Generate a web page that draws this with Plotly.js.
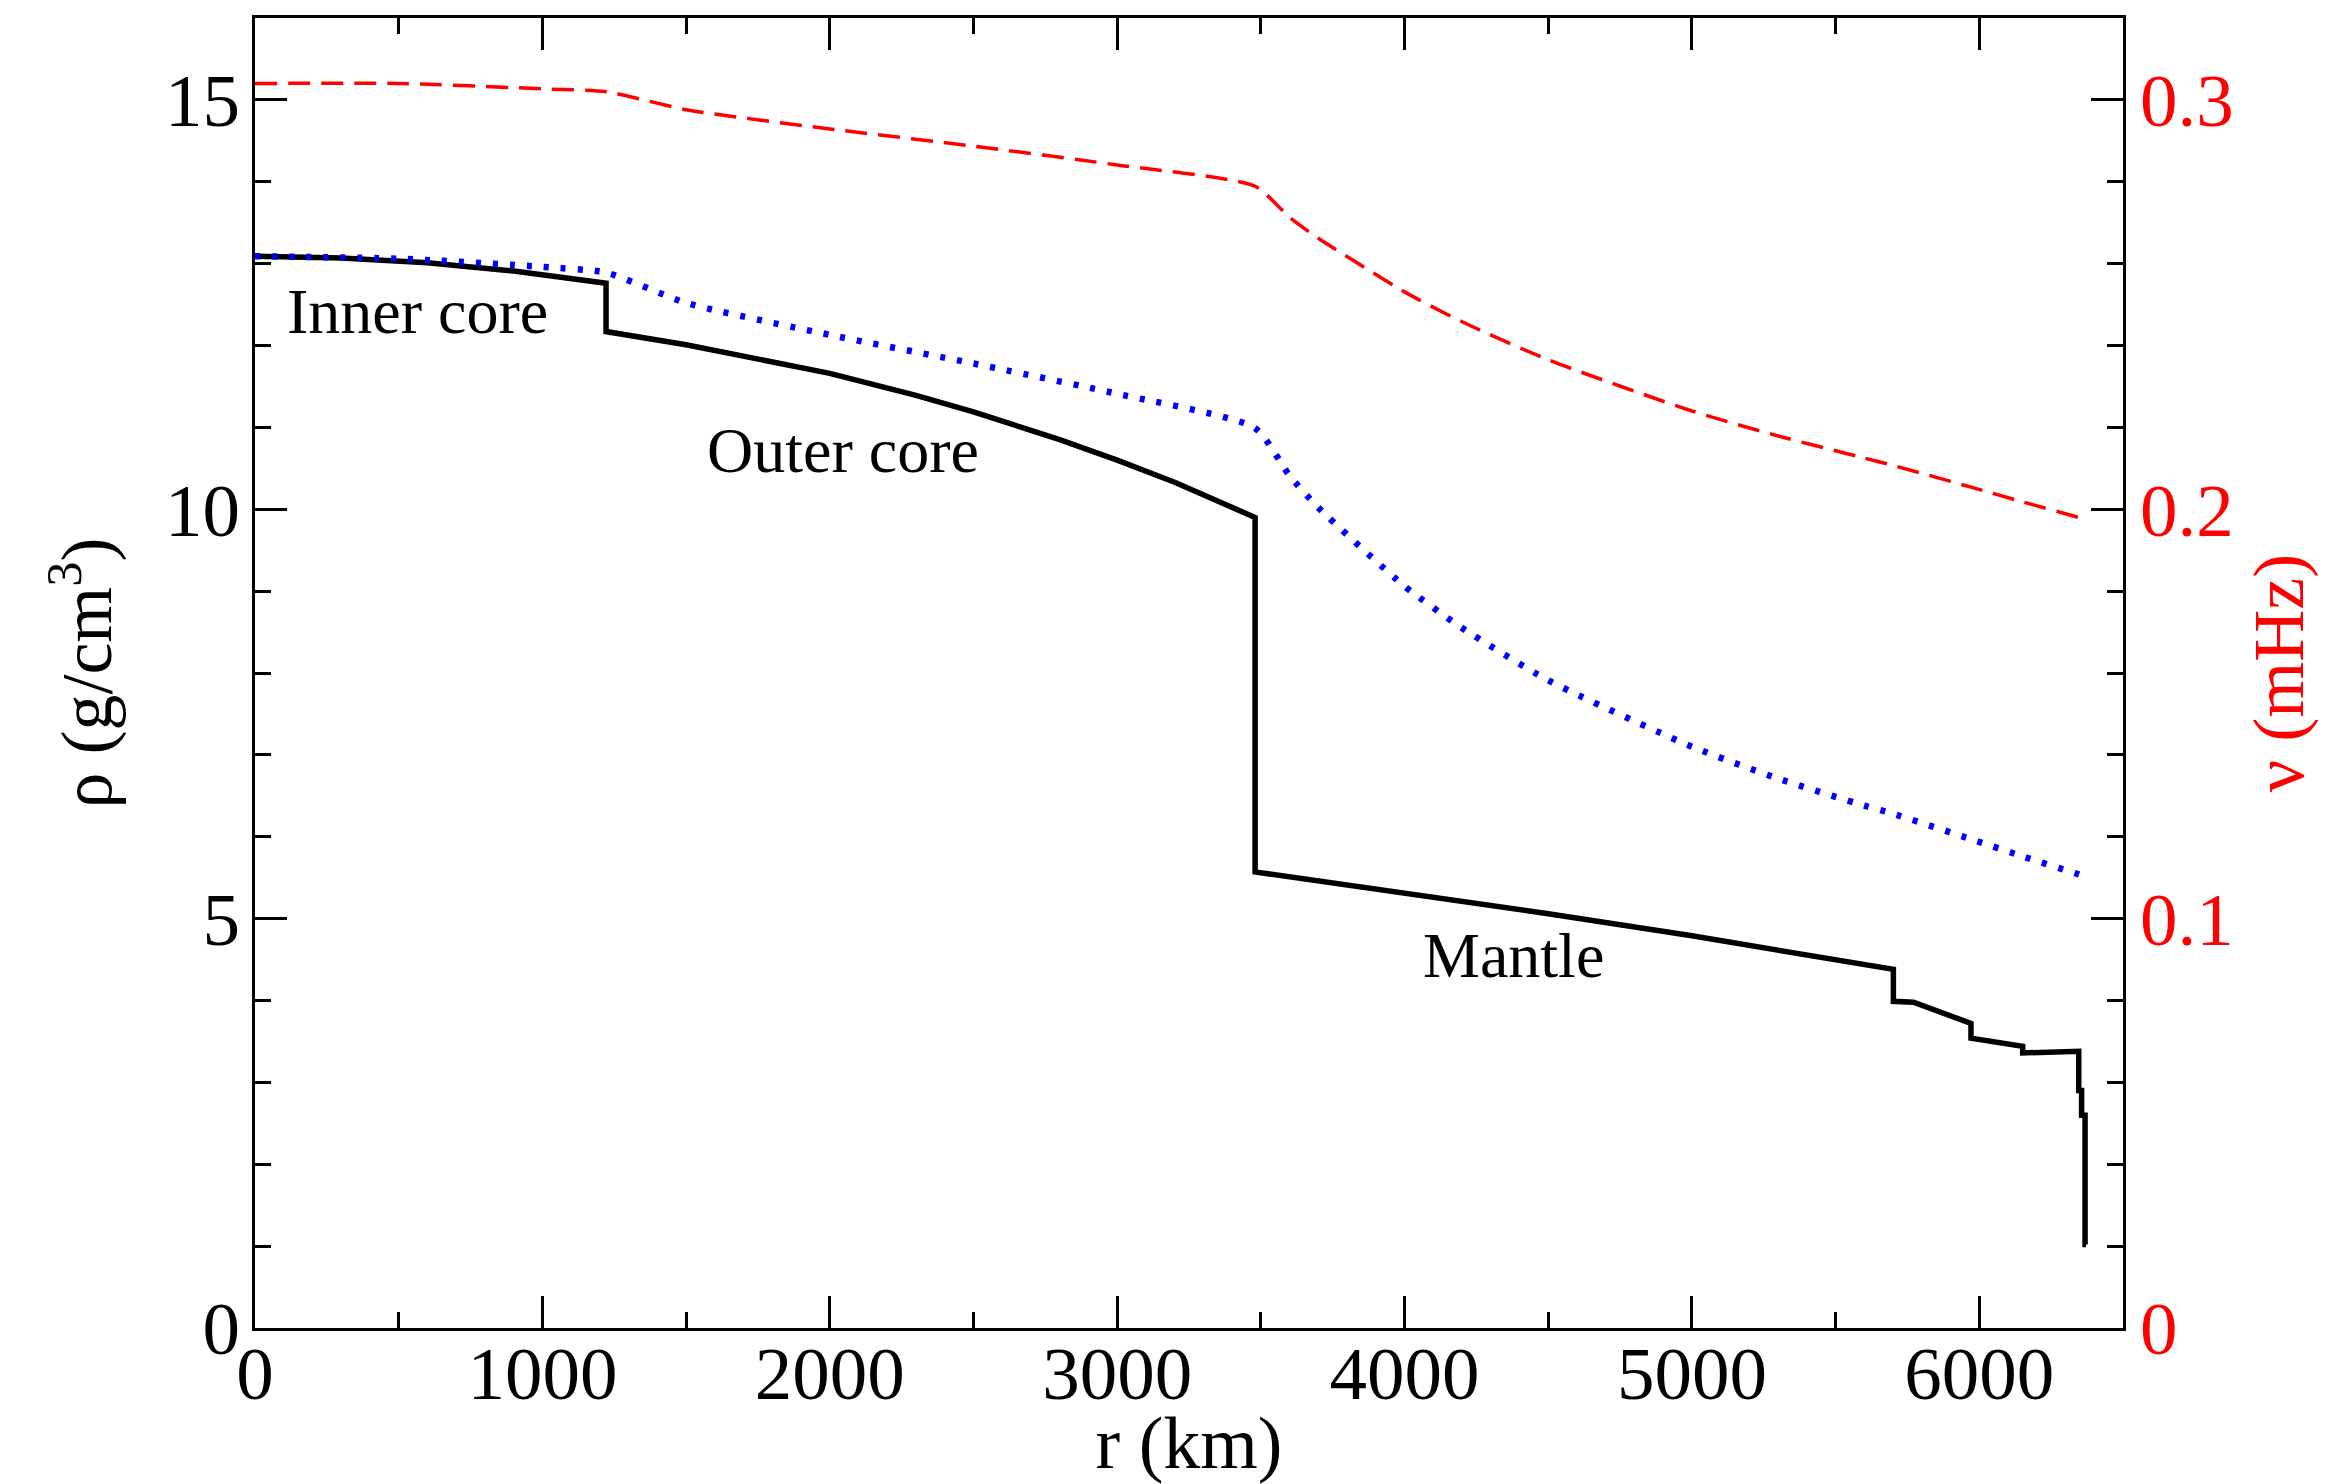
<!DOCTYPE html>
<html>
<head>
<meta charset="utf-8">
<script src="https://cdn.plot.ly/plotly-3.0.1.min.js"></script>
<style>html,body{margin:0;padding:0;background:#fff;}#chart{width:2352px;height:1484px;}</style>
</head>
<body>
<div id="chart"></div>
<script>
// Density rho (g/cm^3) vs radius r (km) — solid black
const rhoR   = [0, 300, 600, 900, 1221.5, 1221.5, 1500, 1800, 2000, 2300, 2500, 2800, 3000, 3200, 3480, 3480, 3800, 4000, 4500, 5000, 5300, 5600, 5701, 5701, 5771, 5971, 5971, 6151, 6151, 6346, 6346, 6356, 6356, 6368, 6368, 6371];
const rhoVal = [13.09, 13.07, 13.01, 12.91, 12.76, 12.17, 12.01, 11.81, 11.66, 11.39, 11.19, 10.85, 10.60, 10.33, 9.90, 5.57, 5.41, 5.31, 5.06, 4.79, 4.62, 4.44, 4.38, 3.99, 3.98, 3.72, 3.54, 3.44, 3.36, 3.38, 2.90, 2.90, 2.60, 2.60, 1.02, 1.02];

// Mean density (g/cm^3) — blue dotted
const meanR   = [0, 500, 1000, 1221.5, 1500, 2000, 2500, 3000, 3480, 3600, 3700, 4000, 4200, 4500, 5000, 5300, 5600, 5701, 5971, 6151, 6346, 6371];
const meanVal = [13.09, 13.06, 12.96, 12.89, 12.52, 12.13, 11.78, 11.41, 10.99, 10.41, 10.02, 9.06, 8.55, 7.91, 7.10, 6.71, 6.38, 6.28, 5.97, 5.76, 5.54, 5.51];

// Frequency nu (mHz) — red dashed, right axis
const nuR   = [0, 500, 1000, 1221.5, 1500, 2000, 2500, 3000, 3480, 3600, 3700, 4000, 4200, 4500, 5000, 5300, 5600, 5701, 5971, 6151, 6346, 6371];
const nuVal = [0.304, 0.304, 0.3027, 0.302, 0.2976, 0.2929, 0.2887, 0.2841, 0.2789, 0.2713, 0.2662, 0.2531, 0.2458, 0.2365, 0.2240, 0.2179, 0.2125, 0.2107, 0.2054, 0.2018, 0.1980, 0.1974];

// Region labels
const labelText = ["Inner core", "Outer core", "Mantle"];
const labelR    = [564, 2046, 4379];
const labelRho  = [12.41, 10.72, 4.55];

const FONT = "Liberation Serif, Times New Roman, serif";

const traces = [
  {x: rhoR, y: rhoVal, type: 'scatter', mode: 'lines', line: {color: '#000000', width: 5.5}, yaxis: 'y'},
  {x: meanR, y: meanVal, type: 'scatter', mode: 'lines', line: {color: '#0000ff', width: 6.5, dash: '5px,12px', shape: 'spline', smoothing: 0.6}, yaxis: 'y'},
  {x: nuR, y: nuVal, type: 'scatter', mode: 'lines', line: {color: '#ff0000', width: 3.5, dash: '22px,11px', shape: 'spline', smoothing: 0.6}, yaxis: 'y2'}
];

const annotations = labelText.map((t, i) => ({
  x: labelR[i], y: labelRho[i], xref: 'x', yref: 'y', text: t, showarrow: false,
  font: {family: FONT, size: 64, color: '#000'}
}));

const layout = {
  width: 2352, height: 1484,
  margin: {l: 255, r: 229, t: 18, b: 156},
  paper_bgcolor: '#fff', plot_bgcolor: '#fff',
  showlegend: false,
  font: {family: FONT, size: 75, color: '#000'},
  xaxis: {
    range: [0, 6500], dtick: 1000, tick0: 0,
    showgrid: false, zeroline: false,
    showline: true, linecolor: '#000', linewidth: 3, mirror: 'ticks',
    ticks: 'inside', ticklen: 32, tickwidth: 3, tickcolor: '#000',
    minor: {dtick: 500, ticks: 'inside', ticklen: 16, tickwidth: 3, tickcolor: '#000', showgrid: false},
    tickfont: {family: FONT, size: 75, color: '#000'},
    ticklabelstandoff: -22,
    title: {text: 'r (km)', font: {family: FONT, size: 74, color: '#000'}, standoff: 6},
    automargin: false
  },
  yaxis: {
    range: [0, 16], dtick: 5, tick0: 0,
    showgrid: false, zeroline: false,
    showline: true, linecolor: '#000', linewidth: 3,
    ticks: 'inside', ticklen: 32, tickwidth: 3, tickcolor: '#000',
    minor: {dtick: 1, ticks: 'inside', ticklen: 16, tickwidth: 3, tickcolor: '#000', showgrid: false},
    tickfont: {family: FONT, size: 75, color: '#000'},
    ticklabelstandoff: -3,
    title: {text: 'ρ (g/cm<sup>3</sup>)', font: {family: FONT, size: 72, color: '#000'}, standoff: 30},
    automargin: false
  },
  yaxis2: {
    overlaying: 'y', side: 'right',
    range: [0, 0.32], dtick: 0.1, tick0: 0,
    showgrid: false, zeroline: false,
    showline: true, linecolor: '#000', linewidth: 3,
    ticks: 'inside', ticklen: 32, tickwidth: 3, tickcolor: '#000',
    minor: {dtick: 0.02, ticks: 'inside', ticklen: 16, tickwidth: 3, tickcolor: '#000', showgrid: false},
    tickfont: {family: FONT, size: 75, color: '#ff0000'},
    ticklabelstandoff: -1,
    title: {text: 'ν (mHz)', font: {family: FONT, size: 72, color: '#ff0000'}, standoff: 20},
    automargin: false
  },
  annotations: annotations
};

Plotly.newPlot('chart', traces, layout, {displayModeBar: false, staticPlot: true});
</script>
</body>
</html>
